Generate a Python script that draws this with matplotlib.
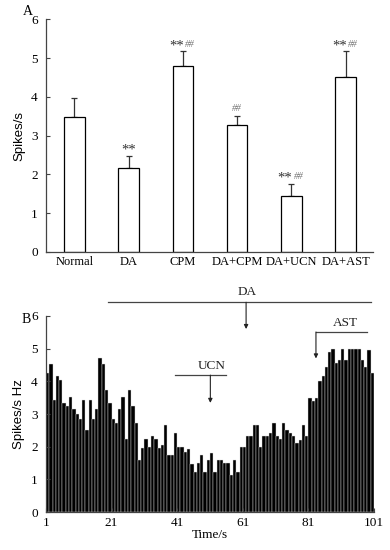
import matplotlib
matplotlib.use("Agg")
import matplotlib.pyplot as plt
import numpy as np

plt.rcParams["font.family"] = ["Liberation Serif", "DejaVu Serif"]

# panel A: group means and SEM
groups = ["Normal", "DA", "CPM", "DA+CPM", "DA+UCN", "DA+AST"]
means = [3.47, 2.17, 4.80, 3.27, 1.44, 4.52]
sems = [0.51, 0.31, 0.37, 0.24, 0.32, 0.65]
stars = ["", "**", "**", "", "**", "**"]
hashes = ["", "", "##", "##", "##", "##"]

# panel B: firing rate per second (time 1..100 s)
rate = [4.25, 4.53, 3.42, 4.15, 4.03, 3.34, 3.24, 3.51, 3.14, 2.99,
        2.84, 3.42, 2.51, 3.42, 2.84, 3.14, 4.70, 4.53, 3.74, 3.34,
        2.84, 2.74, 3.14, 3.51, 2.25, 3.74, 3.24, 2.74, 1.59, 1.95,
        2.25, 1.99, 2.33, 2.25, 1.95, 2.05, 2.65, 1.74, 1.74, 2.43,
        2.00, 2.00, 1.84, 1.92, 1.46, 1.24, 1.50, 1.74, 1.24, 1.60,
        1.82, 1.24, 1.60, 1.60, 1.50, 1.50, 1.13, 1.60, 1.24, 2.00,
        2.00, 2.33, 2.33, 2.65, 2.65, 1.99, 2.33, 2.33, 2.42, 2.73,
        2.33, 2.23, 2.73, 2.52, 2.43, 2.33, 2.12, 2.20, 2.65, 2.33,
        3.49, 3.41, 3.49, 4.02, 4.15, 4.45, 4.90, 5.00, 4.55, 4.65,
        5.00, 4.65, 5.00, 5.00, 5.00, 5.00, 4.65, 4.45, 4.95, 4.25]
time_ticks = [1, 21, 41, 61, 81, 101]

fig = plt.figure(figsize=(3.9, 5.5), dpi=100)

# -----------------------------
# Panel A
# -----------------------------
axA = fig.add_axes([0.118, 0.542, 0.838, 0.423])
x = np.arange(len(groups))
axA.bar(x, means, width=0.38, color="white", edgecolor="black", linewidth=0.9, zorder=2)
axA.errorbar(x, means, yerr=[np.zeros(len(sems)), sems], fmt="none",
             ecolor="#333333", elinewidth=0.9, capsize=2.5, capthick=0.9, zorder=1)

for i in range(len(groups)):
    top = means[i] + sems[i]
    if stars[i] and hashes[i]:
        axA.text(x[i] - 0.12, top + 0.06, stars[i], ha="center", va="baseline",
                 fontsize=10.5, color="#333333")
        axA.text(x[i] + 0.13, top + 0.12, hashes[i], ha="center", va="baseline",
                 fontsize=7, color="#777777", style="italic")
    elif stars[i]:
        axA.text(x[i], top + 0.06, stars[i], ha="center", va="baseline",
                 fontsize=10.5, color="#333333")
    elif hashes[i]:
        axA.text(x[i], top + 0.12, hashes[i], ha="center", va="baseline",
                 fontsize=7, color="#777777", style="italic")

axA.set_xlim(-0.52, 5.5)
axA.set_ylim(0, 6)
axA.set_xticks(x)
axA.set_xticklabels(groups, fontsize=9)
axA.set_yticks(range(7))
axA.tick_params(axis="y", direction="in", length=3, labelsize=9.5, pad=6, color="#444444")
axA.tick_params(axis="x", length=0, pad=3)
for s in ["top", "right"]:
    axA.spines[s].set_visible(False)
for s in ["left", "bottom"]:
    axA.spines[s].set_color("#444444")
    axA.spines[s].set_linewidth(0.9)
axA.set_ylabel("Spikes/s", family=["Liberation Sans", "DejaVu Sans"], fontsize=9.5, labelpad=4)
fig.text(0.058, 0.972, "A", fontsize=10)

# -----------------------------
# Panel B
# -----------------------------
axB = fig.add_axes([0.118, 0.069, 0.841, 0.3565])
t = np.arange(1, len(rate) + 1)
axB.bar(t, rate, width=1, align="edge", color="black", edgecolor="#dddddd", linewidth=0.3)
axB.set_xlim(1, 101)
axB.set_ylim(0, 6)
axB.set_xticks(time_ticks)
axB.set_yticks(range(7))
axB.tick_params(direction="in", length=3, labelsize=9.5, color="#444444")
axB.tick_params(axis="y", pad=6)
for s in ["top", "right"]:
    axB.spines[s].set_visible(False)
for s in ["left", "bottom"]:
    axB.spines[s].set_color("#444444")
    axB.spines[s].set_linewidth(0.9)
axB.set_xlabel("Time/s", fontsize=9.5, labelpad=0)
axB.set_ylabel("Spikes/s Hz", family=["Liberation Sans", "DejaVu Sans"], fontsize=9.5, labelpad=4)
fig.text(0.055, 0.413, "B", fontsize=10)

arrow = dict(arrowstyle="-|>", lw=0.8, color="#222222", mutation_scale=6, shrinkA=0, shrinkB=0)

# DA period
axB.plot([20, 100], [6.42, 6.42], color="#444444", lw=0.9, clip_on=False)
axB.annotate("", xy=(62, 5.6), xytext=(62, 6.42), arrowprops=arrow, annotation_clip=False)
axB.text(62.4, 6.55, "DA", ha="center", va="bottom", fontsize=9.5, color="#222222")

# UCN
axB.plot([40.3, 56], [4.19, 4.19], color="#444444", lw=0.9)
axB.annotate("", xy=(51.1, 3.34), xytext=(51.1, 4.19), arrowprops=arrow)
axB.text(51.5, 4.3, "UCN", ha="center", va="bottom", fontsize=9.5, color="#222222")

# AST
axB.plot([83.3, 99], [5.51, 5.51], color="#444444", lw=0.9)
axB.annotate("", xy=(83.3, 4.7), xytext=(83.3, 5.51), arrowprops=arrow)
axB.text(92.2, 5.6, "AST", ha="center", va="bottom", fontsize=9.5, color="#222222")

fig.savefig("out.png", dpi=100)
plt.close(fig)
